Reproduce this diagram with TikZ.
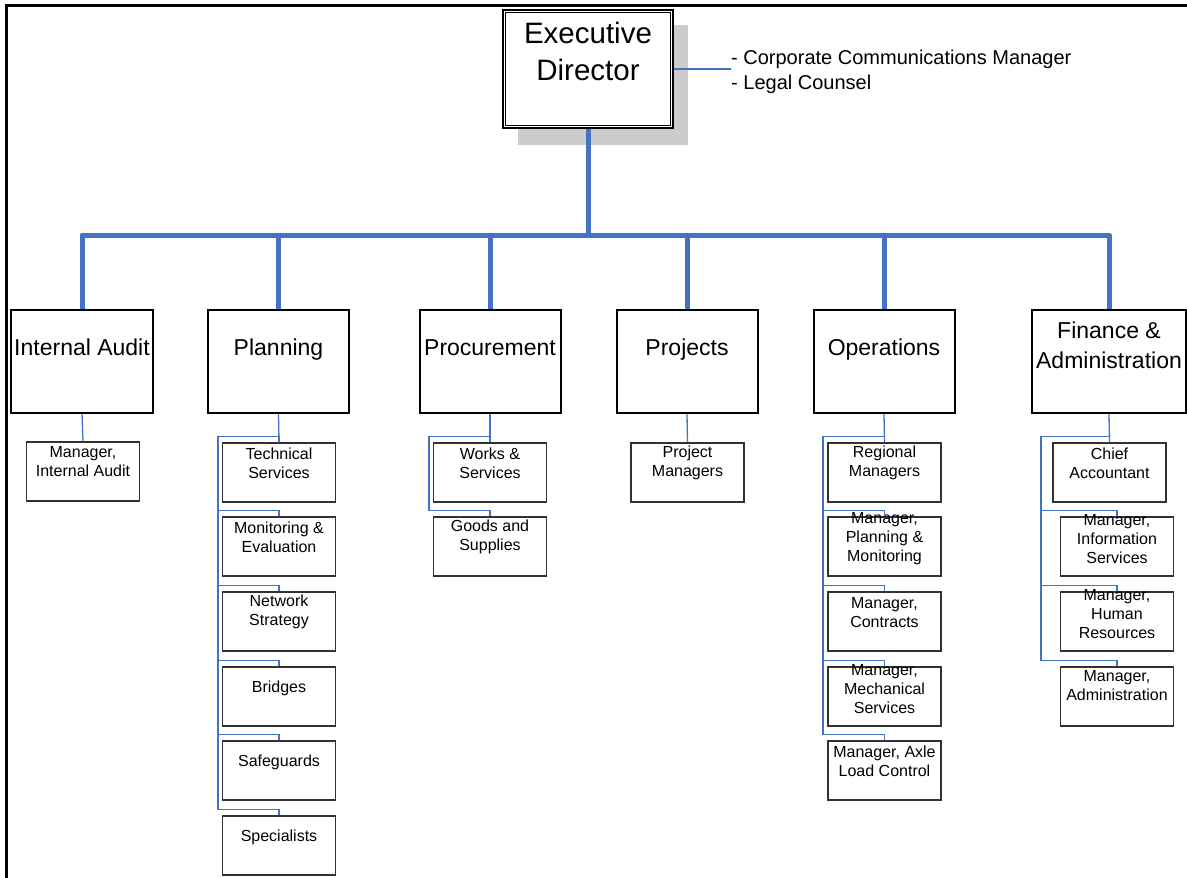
\documentclass[tikz,border=0pt]{standalone}
\usepackage{fontspec}
\setmainfont{Liberation Sans}
\usetikzlibrary{calc}
\definecolor{blu}{RGB}{68,114,196}
\definecolor{shad}{RGB}{204,204,204}
\definecolor{subedge}{RGB}{50,50,50}
\newcommand{\subnode}[5]{%
  \node[subbox] (#1) at (#2,#3+29.5) {};
  \node[subtext] (#1t) at (#2,#3+#5) {#4};
}
\begin{document}
\begin{tikzpicture}[x=1pt,y=-1pt,
  dept/.style={draw=black, line width=2pt, minimum width=141pt, minimum height=103pt, inner sep=0pt, fill=white},
  subbox/.style={draw=subedge, line width=1.2pt, minimum width=113pt, minimum height=59pt, inner sep=0pt},
  subtext/.style={font=\fontsize{16}{19}\selectfont, align=center, inner sep=0pt},
  depttext/.style={font=\fontsize{23}{30}\selectfont, align=center, inner sep=0pt, anchor=base},
  trunk/.style={draw=blu, line width=5pt, line join=round},
  twig/.style={draw=blu, line width=1.3pt}]
\useasboundingbox (0,0) rectangle (1187,878);
\draw[line width=3pt] (6,878) -- (6,5) -- (1187,5);

% Executive
\fill[shad] (518,25) rectangle (688,145);
\node[draw, line width=1.5pt, fill=white, minimum width=170pt, minimum height=118pt, inner sep=0pt] (exec) at (588,69) {};
\draw[line width=1pt] ($(exec.north west)+(3,3)$) rectangle ($(exec.south east)+(-3,-3)$);
\node[font=\fontsize{29.5}{37}\selectfont, align=center, inner sep=0pt] (exect) at (588,51) {Executive\\Director};
\node[anchor=west, font=\fontsize{20}{25}\selectfont, align=left, inner sep=0pt] (side) at (731,71.5) {- Corporate Communications Manager\\- Legal Counsel};
\draw[twig] (exec.east) -- (exec.east -| side.west);

% Departments
\node[dept, minimum width=142pt] (ia) at (82,361.5) {};
\node[dept] (plan) at (278.5,361.5) {};
\node[dept] (proc) at (490,361.5) {};
\node[dept] (proj) at (687,361.5) {};
\node[dept] (ops) at (884,361.5) {};
\node[dept, minimum width=154pt] (fin) at (1109,361.5) {};
\node[depttext] (iat) at (82,355) {Internal Audit};
\node[depttext] (plant) at (278.5,355) {Planning};
\node[depttext] (proct) at (490,355) {Procurement};
\node[depttext] (projt) at (687,355) {Projects};
\node[depttext] (opst) at (884,355) {Operations};
\node[depttext] (fint) at (1109,368) {Finance \&\\Administration};

% Trunk
\coordinate (bar) at (590,235);
\draw[trunk] (exec.south) -- (exec.south |- bar);
\draw[trunk] (ia.north) -- (ia.north |- bar) -- (fin.north |- bar) -- (fin.north);
\foreach \d in {plan,proc,proj,ops} \draw[trunk] (\d.north) -- (\d.north |- bar);

% Internal Audit
\subnode{iam}{83}{442}{Manager,\\Internal Audit}{20}
\draw[twig] (ia.south) -- (iam.north);

% Planning
\subnode{tech}{279}{443}{Technical\\Services}{20}
\subnode{mon}{279}{517}{Monitoring \&\\Evaluation}{20}
\subnode{net}{279}{592}{Network\\Strategy}{20}
\subnode{bri}{279}{667}{Bridges}{21}
\subnode{saf}{279}{741}{Safeguards}{21}
\subnode{spe}{279}{816}{Specialists}{21}
\coordinate (pspine) at (218,437);
\draw[twig] (plan.south) -- (tech.north);
\foreach \c in {tech,mon,net,bri,saf,spe} \draw[twig] (\c.north) -- ++(0,-6) -| (pspine);

% Procurement
\subnode{wor}{490}{443}{Works \&\\Services}{20}
\subnode{goo}{490}{517}{Goods and\\Supplies}{20}
\coordinate (rspine) at (429,437);
\draw[twig] (proc.south) -- (wor.north);
\foreach \c in {wor,goo} \draw[twig] (\c.north) -- ++(0,-6) -| (rspine);

% Projects
\subnode{pm}{687.5}{443}{Project\\Managers}{20}
\draw[twig] (proj.south) -- (pm.north);

% Operations
\subnode{reg}{884.5}{443}{Regional\\Managers}{20}
\subnode{mpm}{884.5}{517}{Manager,\\Planning \&\\Monitoring}{22}
\subnode{con}{884.5}{592}{Manager,\\Contracts}{21}
\subnode{mec}{884.5}{667}{Manager,\\Mechanical\\Services}{22}
\subnode{axl}{884.5}{741}{Manager, Axle\\Load Control}{20}
\coordinate (ospine) at (823,437);
\draw[twig] (ops.south) -- (reg.north);
\foreach \c in {reg,mpm,con,mec,axl} \draw[twig] (\c.north) -- ++(0,-6) -| (ospine);

% Finance
\subnode{chi}{1109.5}{443}{Chief\\Accountant}{20}
\subnode{inf}{1117}{517}{Manager,\\Information\\Services}{22}
\subnode{hum}{1117}{592}{Manager,\\Human\\Resources}{22}
\subnode{adm}{1117}{667}{Manager,\\Administration}{19}
\coordinate (fspine) at (1041,437);
\draw[twig] (fin.south) -- (chi.north);
\foreach \c in {chi,inf,hum,adm} \draw[twig] (\c.north) -- ++(0,-6) -| (fspine);
\end{tikzpicture}
\end{document}
